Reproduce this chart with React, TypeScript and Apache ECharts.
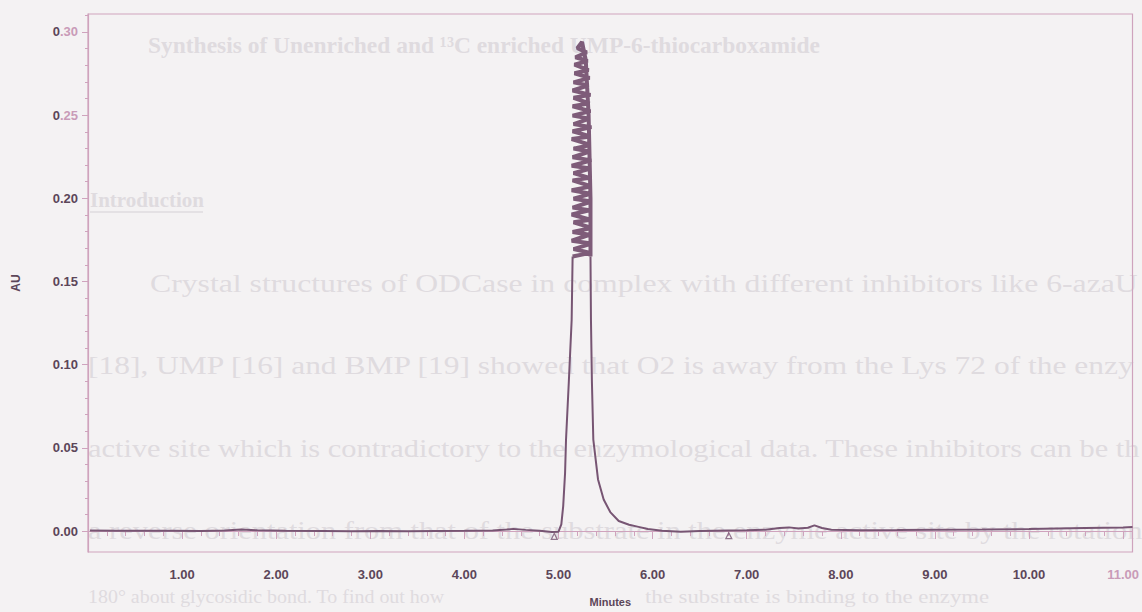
import React, { useEffect, useRef } from "react";
import * as echarts from "echarts";

// ---------- data ----------
const xTickLabels = [1, 2, 3, 4, 5, 6, 7, 8, 9, 10, 11];
const yTickLabels = [0, 0.05, 0.1, 0.15, 0.2, 0.25, 0.3];

// baseline before the peak [minutes, AU]
const baselineBefore = [
  [0.02, 0.0003], [0.3, 0.0002], [0.6, 0.0001], [0.9, 0.0002], [1.2, 0.0],
  [1.45, 0.0003], [1.63, 0.0009], [1.8, 0.0004], [2.1, 0.0001], [2.5, 0.0],
  [2.8, -0.0002], [3.1, 0.0], [3.4, -0.0001], [3.7, 0.0], [4.0, 0.0001],
  [4.3, 0.0003], [4.45, 0.0009], [4.52, 0.0013], [4.65, 0.0007], [4.8, 0.0002],
  [4.93, -0.0006], [5.0, -0.0004],
];
// steep left flank of the peak
const peakRise = [
  [5.0, -0.0004], [5.03, 0.004], [5.05, 0.015], [5.07, 0.035], [5.08, 0.055],
  [5.11, 0.09], [5.14, 0.127], [5.15, 0.165],
];
// noisy saturated top of the peak (trace swinging between both flanks)
const peakBand = [
  [5.15, 0.165], [5.34, 0.1672], [5.16, 0.1695], [5.35, 0.1728], [5.14, 0.1745], [5.33, 0.1781],
  [5.15, 0.1798], [5.35, 0.1822], [5.16, 0.1856], [5.34, 0.1871], [5.14, 0.1903], [5.33, 0.1928],
  [5.15, 0.1944], [5.35, 0.1981], [5.16, 0.1998], [5.34, 0.2027], [5.14, 0.2049], [5.35, 0.2072],
  [5.15, 0.2108], [5.33, 0.2123], [5.16, 0.2151], [5.34, 0.2179], [5.14, 0.2196], [5.35, 0.2228],
  [5.15, 0.2247], [5.33, 0.2281], [5.16, 0.2299], [5.34, 0.2321], [5.14, 0.2356], [5.34, 0.2372],
  [5.15, 0.2403], [5.35, 0.2428], [5.16, 0.2446], [5.33, 0.2479], [5.15, 0.2497], [5.34, 0.2524],
  [5.15, 0.2553], [5.33, 0.2571], [5.16, 0.2604], [5.34, 0.2622], [5.15, 0.2648], [5.32, 0.2679],
  [5.16, 0.2697], [5.33, 0.2724], [5.17, 0.2752], [5.32, 0.2771], [5.17, 0.2803], [5.31, 0.2826],
  [5.18, 0.2848], [5.3, 0.2877], [5.2, 0.2902], [5.25, 0.294], [5.29, 0.283], [5.32, 0.25],
  [5.34, 0.2], [5.34, 0.165],
];
// right flank and tail
const peakFall = [
  [5.34, 0.165], [5.345, 0.127], [5.355, 0.09], [5.37, 0.055], [5.42, 0.031],
  [5.48, 0.019], [5.55, 0.0114], [5.64, 0.006], [5.75, 0.0038], [5.85, 0.0025],
  [5.95, 0.0012],
];
// baseline after the peak
const baselineAfter = [
  [5.95, 0.0012], [6.1, 0.0002], [6.3, -0.0004], [6.5, 0.0], [6.8, 0.0003],
  [7.0, 0.0005], [7.2, 0.0008], [7.35, 0.0018], [7.45, 0.0022], [7.55, 0.0015],
  [7.65, 0.002], [7.72, 0.0034], [7.8, 0.0018], [7.9, 0.0008], [8.2, 0.0005],
  [8.6, 0.0006], [9.0, 0.0008], [9.5, 0.0009], [10.0, 0.0012], [10.3, 0.0015],
  [10.6, 0.0018], [11.0, 0.0022], [11.1, 0.0025],
];
// integration start / end marks
const integrationMarks = [[4.955, -0.0032], [6.81, -0.0028]];

// faint show-through text of the scanned page
const showThroughLines = [
  "Synthesis of Unenriched and ¹³C enriched UMP-6-thiocarboxamide",
  "Introduction",
  "Crystal structures of ODCase in complex with different inhibitors like 6-azaU",
  "[18], UMP [16] and BMP [19] showed that O2 is away from the Lys 72 of the enzy",
  "active site which is contradictory to the enzymological data. These inhibitors can be th",
  "a reverse orientation from that of the substrate in the enzyme active site by the rotation",
  "180° about glycosidic bond. To find out how",
  "the substrate is binding to the enzyme",
];

// ---------- styling ----------
const TRACE = "#775573";
const AXIS = "#cfa3bd";
const LABEL = "#5c4659";
const PINK_LABEL = "#c99bb8";
const BG = "#f4f2f3";
const GHOST = "#dfdbdf";

const X_MIN = 0;
const X_MAX = 11.1;
const Y_MIN = -0.0126;
const Y_MAX = 0.3108;

const xMinor: number[] = [];
for (let i = 1; i < 56; i++) if (i % 5 !== 0) xMinor.push(i / 5);
const yMinor: number[] = [];
for (let i = 0; i <= 31; i++) if (i % 5 !== 0) yMinor.push(i / 100);

export default function App() {
  const ref = useRef<HTMLDivElement>(null);
  useEffect(() => {
    document.body.style.margin = "0";
    document.body.style.background = BG;
    const chart = echarts.init(ref.current!, undefined, { renderer: "svg" });

    const textPos = [
      { x: 148, y: 45, size: 23, bold: true, sx: 1.02 },
      { x: 90, y: 200, size: 21, bold: true, sx: 1 },
      { x: 150, y: 283, size: 26, sx: 1.22 },
      { x: 88, y: 365, size: 26, sx: 1.21 },
      { x: 88, y: 448, size: 26, sx: 1.17 },
      { x: 88, y: 530, size: 26, sx: 1.17 },
      { x: 88, y: 597, size: 19, sx: 1.05 },
      { x: 645, y: 597, size: 19, sx: 1.2 },
    ];
    const graphic: any[] = showThroughLines.map((t, i) => ({
      type: "text",
      x: textPos[i].x,
      y: textPos[i].y,
      scaleX: textPos[i].sx,
      z: -10,
      silent: true,
      style: {
        text: t,
        fill: GHOST,
        font: `${textPos[i].bold ? "bold " : ""}${textPos[i].size}px "Liberation Serif", serif`,
        verticalAlign: "middle",
      },
    }));
    graphic.push({
      type: "line",
      z: -10,
      silent: true,
      shape: { x1: 90, y1: 212, x2: 203, y2: 212 },
      style: { stroke: GHOST, lineWidth: 1.5 },
    });

    const yFmt = (v: number) => {
      const s = v.toFixed(2);
      if (v >= 0.245) return "{d|0}{p|" + s.slice(1) + "}";
      return "{d|" + s + "}";
    };
    const xFmt = (v: number) => {
      const s = v.toFixed(2);
      if (v > 10.5) return "{p|" + s + "}";
      return "{d|" + s + "}";
    };
    const labelRich = {
      d: { color: LABEL, fontWeight: "bold", fontSize: 13, fontFamily: "Liberation Sans, Arial" },
      p: { color: PINK_LABEL, fontWeight: "bold", fontSize: 13, fontFamily: "Liberation Sans, Arial" },
    };

    const lineStyleBase = { color: TRACE, width: 2 };

    chart.setOption({
      animation: false,
      backgroundColor: BG,
      graphic,
      grid: {
        left: 88,
        right: 6,
        top: 14,
        bottom: 59,
        show: true,
        borderColor: AXIS,
        borderWidth: 1.2,
        backgroundColor: "transparent",
      },
      xAxis: [
        {
          type: "value",
          min: X_MIN,
          max: X_MAX,
          name: "Minutes",
          nameLocation: "middle",
          nameGap: 44,
          nameTextStyle: { color: LABEL, fontWeight: "bold", fontSize: 11, fontFamily: "Liberation Sans, Arial" },
          axisLine: { show: true, lineStyle: { color: AXIS, width: 1.2 } },
          axisTick: { show: true, customValues: xTickLabels, length: 8, lineStyle: { color: AXIS } },
          axisLabel: { customValues: xTickLabels, formatter: xFmt, rich: labelRich, margin: 16 },
          splitLine: { show: false },
        },
        {
          type: "value",
          min: X_MIN,
          max: X_MAX,
          position: "bottom",
          axisLine: { show: false },
          axisTick: { show: true, customValues: xMinor, length: 5, lineStyle: { color: AXIS } },
          axisLabel: { show: false },
          splitLine: { show: false },
        },
      ],
      yAxis: [
        {
          type: "value",
          min: Y_MIN,
          max: Y_MAX,
          name: "AU",
          nameLocation: "middle",
          nameRotate: 90,
          nameGap: 66,
          nameTextStyle: { color: LABEL, fontWeight: "bold", fontSize: 12, fontFamily: "Liberation Sans, Arial" },
          axisLine: { show: true, lineStyle: { color: AXIS, width: 1.2 } },
          axisTick: { show: true, customValues: yTickLabels, length: 6, lineStyle: { color: AXIS } },
          axisLabel: { customValues: yTickLabels, formatter: yFmt, rich: labelRich, margin: 10 },
          splitLine: { show: false },
        },
        {
          type: "value",
          min: Y_MIN,
          max: Y_MAX,
          position: "left",
          axisLine: { show: false },
          axisTick: { show: true, customValues: yMinor, length: 3, lineStyle: { color: AXIS } },
          axisLabel: { show: false },
          splitLine: { show: false },
        },
      ],
      series: [
        {
          type: "line",
          data: baselineBefore.concat(peakRise),
          showSymbol: false,
          lineStyle: lineStyleBase,
          z: 3,
        },
        {
          type: "line",
          data: peakBand,
          showSymbol: false,
          lineStyle: { color: "#7e5c79", width: 4 },
          z: 3,
        },
        {
          type: "line",
          data: peakFall.concat(baselineAfter),
          showSymbol: false,
          lineStyle: lineStyleBase,
          z: 3,
        },
        {
          type: "scatter",
          data: integrationMarks,
          symbol: "triangle",
          symbolSize: 6,
          itemStyle: { color: "transparent", borderColor: TRACE, borderWidth: 1.2 },
          z: 4,
        },
      ],
    });
    return () => chart.dispose();
  }, []);
  return (
    <div
      ref={ref}
      style={{ position: "fixed", left: 0, top: 0, width: 1142, height: 612, background: BG }}
    />
  );
}
